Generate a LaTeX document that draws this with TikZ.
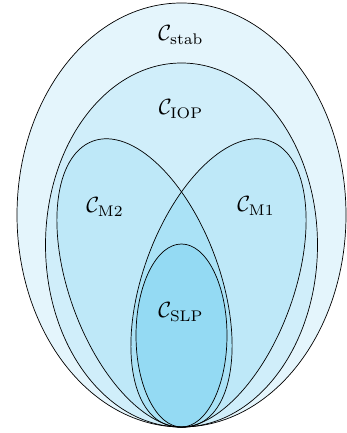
\documentclass[tikz,border=0pt]{standalone}
\definecolor{colStab}{HTML}{E4F5FC}
\definecolor{colIop}{HTML}{D0EEFA}
\definecolor{colM}{HTML}{BEE8F8}
\definecolor{colMM}{HTML}{AAE2F6}
\definecolor{colSlp}{HTML}{94DAF3}
\begin{document}
\begin{tikzpicture}[x=1pt,y=1pt,
  outl/.style={draw=black, line width=0.7pt},
  lab/.style={scale=2.2, inner sep=0pt}]
\useasboundingbox (0,0) rectangle (346,433);
% fills
\fill[colStab] (181.5,218) ellipse [x radius=164.5, y radius=212];
\fill[colIop] (181.5,188) ellipse [x radius=136, y radius=182];
\fill[colM, rotate around={20:(144.5,150)}] (144.5,150) ellipse [x radius=75.3, y radius=151];
\fill[colM, rotate around={-20:(218.5,150)}] (218.5,150) ellipse [x radius=75.3, y radius=151];
\begin{scope}
  \clip[rotate around={20:(144.5,150)}] (144.5,150) ellipse [x radius=75.3, y radius=151];
  \fill[colMM, rotate around={-20:(218.5,150)}] (218.5,150) ellipse [x radius=75.3, y radius=151];
\end{scope}
\fill[colSlp] (181.5,97.5) ellipse [x radius=45.5, y radius=91.5];
% outlines
\draw[outl] (181.5,218) ellipse [x radius=164.5, y radius=212];
\draw[outl] (181.5,188) ellipse [x radius=136, y radius=182];
\draw[outl, rotate around={20:(144.5,150)}] (144.5,150) ellipse [x radius=75.3, y radius=151];
\draw[outl, rotate around={-20:(218.5,150)}] (218.5,150) ellipse [x radius=75.3, y radius=151];
\draw[outl] (181.5,97.5) ellipse [x radius=45.5, y radius=91.5];
% labels
\node[lab] (stab) at (181,398) {$\mathcal{C}_{\mathrm{stab}}$};
\node[lab] (iop) at (181,324) {$\mathcal{C}_{\mathrm{IOP}}$};
\node[lab] (m2) at (105,226) {$\mathcal{C}_{\mathrm{M2}}$};
\node[lab] (m1) at (256,227) {$\mathcal{C}_{\mathrm{M1}}$};
\node[lab] (slp) at (181,121) {$\mathcal{C}_{\mathrm{SLP}}$};
\end{tikzpicture}
\end{document}
